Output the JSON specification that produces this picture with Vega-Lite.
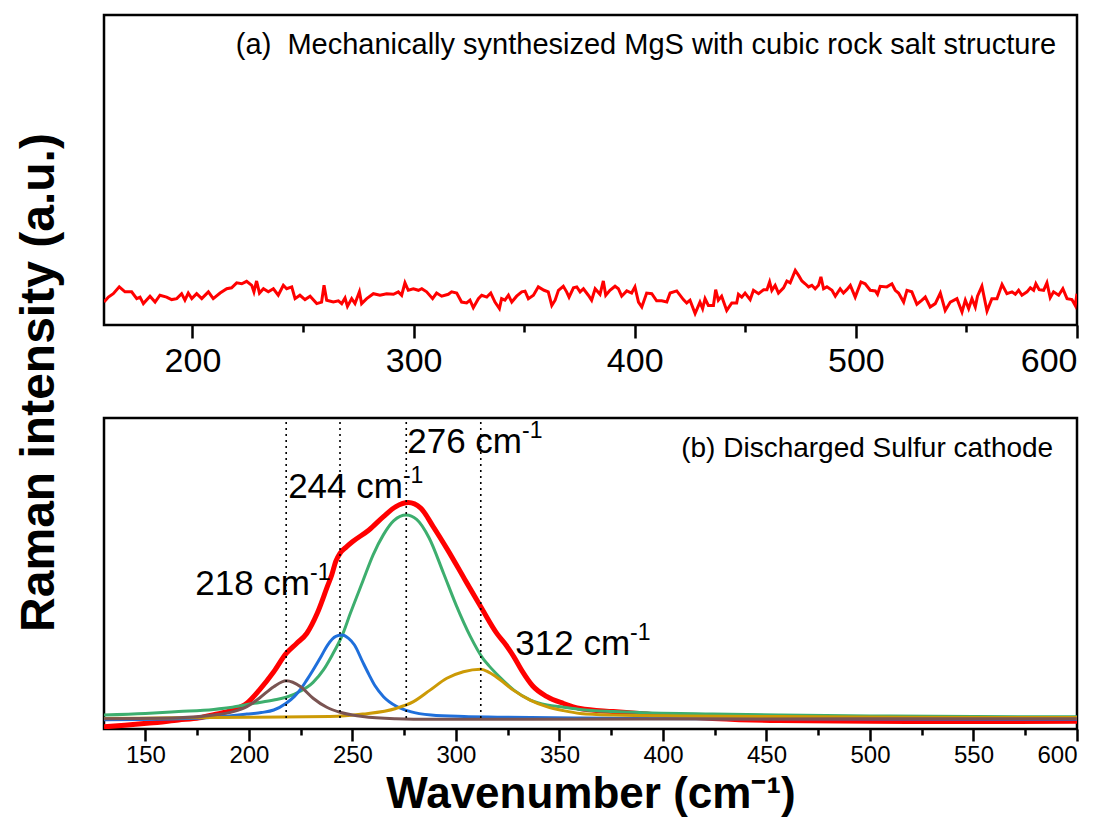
{
  "$schema": "https://vega.github.io/schema/vega-lite/v6.json",
  "background": "white",
  "padding": {"left": 15, "top": 13, "right": 5, "bottom": 5},
  "spacing": 35,
  "title": {"text": "Raman intensity (a.u.)", "orient": "left", "anchor": "middle", "font": "Liberation Sans", "fontSize": 48, "fontWeight": "bold", "color": "black", "offset": 39, "dx": 33},
  "config": {
    "view": {"stroke": "black", "strokeWidth": 2.5},
    "font": "Liberation Sans",
    "axis": {"grid": false, "labelColor": "black", "tickColor": "black", "titleColor": "black"}
  },
  "datasets": {
    "mgs": [
      {"w":160,"v":7.4},{"w":162.0,"v":9.0},{"w":164.2,"v":10.1},{"w":166.9,"v":12.3},{"w":169.5,"v":10.7},{"w":172.5,"v":10.7},{"w":174.8,"v":8.5},{"w":176.3,"v":9.0},{"w":177.8,"v":6.9},{"w":180.8,"v":9.3},{"w":183.1,"v":7.4},{"w":185.3,"v":9.6},{"w":188.3,"v":9.0},{"w":190.6,"v":8.2},{"w":192.9,"v":8.5},{"w":195.1,"v":10.1},{"w":196.6,"v":8.0},{"w":198.1,"v":10.3},{"w":199.7,"v":8.5},{"w":201.9,"v":10.1},{"w":204.2,"v":8.5},{"w":207.2,"v":10.7},{"w":209.4,"v":8.5},{"w":212.5,"v":10.3},{"w":215.5,"v":11.7},{"w":217.7,"v":12.0},{"w":220.0,"v":13.6},{"w":222.3,"v":13.3},{"w":224.5,"v":14.1},{"w":226.8,"v":12.8},{"w":227.8,"v":10.7},{"w":229.0,"v":14.2},{"w":230.3,"v":10.3},{"w":232.1,"v":11.7},{"w":234.3,"v":10.7},{"w":236.6,"v":11.7},{"w":238.8,"v":9.6},{"w":241.1,"v":12.8},{"w":242.6,"v":11.7},{"w":244.9,"v":12.3},{"w":246.4,"v":8.5},{"w":248.6,"v":9.6},{"w":250.9,"v":8.2},{"w":253.2,"v":9.3},{"w":256.2,"v":6.9},{"w":258.4,"v":7.4},{"w":259.5,"v":12.8},{"w":260.7,"v":8.0},{"w":263.7,"v":7.4},{"w":266.0,"v":7.8},{"w":267.5,"v":6.9},{"w":269.0,"v":8.7},{"w":270.1,"v":6.0},{"w":272.0,"v":8.5},{"w":273.5,"v":6.9},{"w":275.5,"v":10.7},{"w":276.5,"v":6.9},{"w":278.8,"v":8.5},{"w":281.8,"v":10.1},{"w":284.8,"v":9.6},{"w":287.8,"v":10.1},{"w":290.9,"v":9.9},{"w":293.1,"v":10.7},{"w":294.6,"v":9.6},{"w":296.1,"v":13.6},{"w":297.6,"v":11.2},{"w":299.9,"v":11.7},{"w":302.2,"v":11.2},{"w":303.7,"v":11.7},{"w":305.9,"v":10.7},{"w":308.6,"v":8.5},{"w":310.4,"v":10.3},{"w":312.7,"v":9.3},{"w":315.7,"v":9.9},{"w":317.2,"v":10.7},{"w":319.5,"v":10.3},{"w":321.7,"v":7.4},{"w":324.0,"v":7.1},{"w":325.5,"v":8.0},{"w":327.0,"v":5.6},{"w":329.3,"v":8.5},{"w":330.8,"v":9.6},{"w":333.1,"v":9.0},{"w":334.9,"v":10.3},{"w":336.8,"v":7.4},{"w":338.8,"v":5.3},{"w":339.8,"v":8.5},{"w":341.3,"v":8.0},{"w":342.9,"v":9.6},{"w":344.4,"v":7.4},{"w":346.6,"v":9.3},{"w":348.9,"v":10.7},{"w":350.4,"v":10.9},{"w":351.9,"v":8.5},{"w":354.2,"v":9.6},{"w":356.4,"v":12.3},{"w":359.0,"v":11.2},{"w":360.9,"v":10.7},{"w":362.5,"v":6.3},{"w":364.0,"v":8.0},{"w":365.5,"v":11.2},{"w":367.7,"v":12.5},{"w":369.2,"v":10.7},{"w":370.3,"v":9.0},{"w":372.3,"v":12.0},{"w":373.8,"v":12.3},{"w":375.3,"v":10.7},{"w":376.8,"v":11.7},{"w":379.0,"v":9.6},{"w":380.5,"v":8.0},{"w":382.1,"v":11.7},{"w":384.3,"v":9.9},{"w":385.8,"v":14.2},{"w":386.9,"v":9.6},{"w":388.8,"v":11.2},{"w":391.1,"v":12.5},{"w":392.6,"v":11.7},{"w":394.1,"v":9.3},{"w":396.4,"v":11.0},{"w":398.6,"v":10.3},{"w":400.1,"v":12.3},{"w":401.7,"v":7.4},{"w":403.2,"v":5.8},{"w":405.4,"v":10.3},{"w":407.7,"v":10.1},{"w":409.9,"v":7.8},{"w":412.2,"v":7.8},{"w":414.5,"v":7.4},{"w":416.0,"v":10.3},{"w":419.0,"v":11.0},{"w":422.0,"v":8.2},{"w":423.5,"v":7.1},{"w":425.0,"v":8.0},{"w":427.3,"v":3.7},{"w":429.5,"v":7.4},{"w":430.7,"v":5.3},{"w":431.8,"v":8.5},{"w":433.3,"v":6.3},{"w":435.6,"v":6.3},{"w":436.6,"v":11.4},{"w":437.8,"v":8.0},{"w":439.3,"v":9.3},{"w":441.6,"v":4.7},{"w":443.9,"v":7.1},{"w":446.1,"v":7.1},{"w":446.9,"v":9.9},{"w":448.4,"v":9.0},{"w":449.9,"v":10.3},{"w":452.2,"v":8.2},{"w":453.7,"v":11.2},{"w":456.0,"v":10.1},{"w":458.3,"v":11.4},{"w":459.8,"v":11.4},{"w":461.0,"v":13.9},{"w":462.0,"v":11.2},{"w":463.5,"v":12.8},{"w":465.0,"v":10.3},{"w":467.3,"v":12.0},{"w":468.8,"v":14.2},{"w":470.3,"v":13.6},{"w":472.6,"v":17.6},{"w":474.1,"v":16.0},{"w":475.6,"v":14.2},{"w":477.1,"v":13.3},{"w":478.6,"v":12.3},{"w":480.1,"v":12.8},{"w":481.6,"v":11.7},{"w":483.1,"v":12.8},{"w":484.2,"v":15.5},{"w":485.4,"v":11.7},{"w":486.9,"v":12.3},{"w":489.2,"v":11.2},{"w":490.7,"v":9.3},{"w":492.9,"v":11.7},{"w":494.4,"v":10.3},{"w":495.9,"v":11.4},{"w":497.5,"v":12.8},{"w":499.7,"v":9.0},{"w":502.3,"v":13.9},{"w":504.2,"v":13.3},{"w":506.5,"v":11.2},{"w":508.8,"v":11.0},{"w":509.8,"v":9.9},{"w":511.0,"v":12.5},{"w":514.0,"v":12.3},{"w":516.3,"v":13.3},{"w":517.8,"v":11.2},{"w":519.3,"v":10.3},{"w":521.6,"v":7.4},{"w":523.1,"v":11.2},{"w":525.3,"v":10.7},{"w":527.6,"v":6.7},{"w":529.9,"v":8.0},{"w":531.4,"v":9.0},{"w":533.6,"v":5.8},{"w":535.9,"v":6.9},{"w":538.2,"v":10.3},{"w":540.4,"v":4.7},{"w":542.7,"v":7.4},{"w":545.7,"v":8.5},{"w":548.0,"v":4.2},{"w":549.5,"v":8.0},{"w":551.0,"v":5.3},{"w":552.5,"v":8.5},{"w":554.0,"v":5.8},{"w":555.0,"v":9.3},{"w":557.0,"v":12.5},{"w":559.3,"v":4.5},{"w":561.5,"v":8.5},{"w":563.8,"v":8.5},{"w":566.1,"v":13.1},{"w":568.3,"v":10.1},{"w":570.6,"v":10.7},{"w":572.1,"v":9.9},{"w":573.6,"v":11.2},{"w":575.1,"v":9.6},{"w":577.4,"v":10.7},{"w":578.9,"v":12.0},{"w":580.4,"v":11.2},{"w":581.4,"v":13.3},{"w":582.9,"v":11.4},{"w":584.9,"v":11.2},{"w":586.4,"v":13.6},{"w":587.9,"v":8.8},{"w":589.4,"v":10.7},{"w":591.7,"v":9.6},{"w":593.6,"v":11.7},{"w":595.5,"v":8.5},{"w":597.7,"v":8.2},{"w":599.2,"v":6.3},{"w":600,"v":10.1}
    ],
    "fit": [
      {"s":"fit","w":130,"v":0.7},{"s":"fit","w":140,"v":1.2},{"s":"fit","w":152,"v":1.9},{"s":"fit","w":166,"v":2.9},{"s":"fit","w":176,"v":3.6},{"s":"fit","w":183,"v":4.6},{"s":"fit","w":192,"v":6.1},{"s":"fit","w":199,"v":8.3},{"s":"fit","w":205,"v":12.5},{"s":"fit","w":212,"v":18.4},{"s":"fit","w":218,"v":24.3},{"s":"fit","w":223,"v":27.5},{"s":"fit","w":228,"v":30.8},{"s":"fit","w":233,"v":37.2},{"s":"fit","w":238,"v":46},{"s":"fit","w":240,"v":49.5},{"s":"fit","w":242,"v":54},{"s":"fit","w":244,"v":56.5},{"s":"fit","w":247,"v":58.5},{"s":"fit","w":250,"v":60.2},{"s":"fit","w":258,"v":64},{"s":"fit","w":265,"v":68.3},{"s":"fit","w":271,"v":71.5},{"s":"fit","w":277,"v":72.8},{"s":"fit","w":283,"v":71},{"s":"fit","w":289,"v":65.1},{"s":"fit","w":296,"v":57.6},{"s":"fit","w":304,"v":48.4},{"s":"fit","w":312,"v":39.3},{"s":"fit","w":320,"v":30.5},{"s":"fit","w":324,"v":27.2},{"s":"fit","w":328,"v":23.2},{"s":"fit","w":332,"v":18.6},{"s":"fit","w":337,"v":13.9},{"s":"fit","w":344,"v":10.4},{"s":"fit","w":352,"v":8.2},{"s":"fit","w":360,"v":6.6},{"s":"fit","w":376,"v":5.6},{"s":"fit","w":392,"v":4.8},{"s":"fit","w":408,"v":4.0},{"s":"fit","w":424,"v":3.4},{"s":"fit","w":456,"v":2.7},{"s":"fit","w":500,"v":2.5},{"s":"fit","w":550,"v":2.4},{"s":"fit","w":600,"v":2.5},
      {"s":"c276","w":130,"v":4.5},{"s":"c276","w":150,"v":5.0},{"s":"c276","w":166,"v":5.6},{"s":"c276","w":183,"v":6.3},{"s":"c276","w":192,"v":7.0},{"s":"c276","w":202,"v":8.2},{"s":"c276","w":212,"v":9.3},{"s":"c276","w":218,"v":10.2},{"s":"c276","w":225,"v":12.2},{"s":"c276","w":231,"v":15.0},{"s":"c276","w":236,"v":19.0},{"s":"c276","w":240,"v":23.5},{"s":"c276","w":245,"v":30.0},{"s":"c276","w":249,"v":37.2},{"s":"c276","w":255,"v":47.5},{"s":"c276","w":260,"v":56.0},{"s":"c276","w":265,"v":62.5},{"s":"c276","w":270,"v":67.0},{"s":"c276","w":276,"v":68.8},{"s":"c276","w":281,"v":67.4},{"s":"c276","w":287,"v":61.5},{"s":"c276","w":294,"v":50.1},{"s":"c276","w":300,"v":40.0},{"s":"c276","w":307,"v":29.7},{"s":"c276","w":313,"v":22.7},{"s":"c276","w":316,"v":20.3},{"s":"c276","w":321,"v":16.8},{"s":"c276","w":328,"v":12.5},{"s":"c276","w":336,"v":9.3},{"s":"c276","w":344,"v":7.7},{"s":"c276","w":352,"v":7.0},{"s":"c276","w":360,"v":6.3},{"s":"c276","w":376,"v":5.6},{"s":"c276","w":392,"v":5.2},{"s":"c276","w":424,"v":4.8},{"s":"c276","w":456,"v":4.5},{"s":"c276","w":500,"v":4.2},{"s":"c276","w":550,"v":4.0},{"s":"c276","w":600,"v":3.9},
      {"s":"c244","w":130,"v":3.0},{"s":"c244","w":166,"v":3.3},{"s":"c244","w":183,"v":3.8},{"s":"c244","w":199,"v":4.8},{"s":"c244","w":206,"v":5.3},{"s":"c244","w":212,"v":6.1},{"s":"c244","w":218,"v":8.3},{"s":"c244","w":222,"v":10.5},{"s":"c244","w":225,"v":12.8},{"s":"c244","w":228,"v":15.8},{"s":"c244","w":231,"v":19.0},{"s":"c244","w":235,"v":23.5},{"s":"c244","w":238,"v":27.0},{"s":"c244","w":242,"v":29.8},{"s":"c244","w":245,"v":30.2},{"s":"c244","w":248,"v":29.2},{"s":"c244","w":251,"v":27.0},{"s":"c244","w":255,"v":21.5},{"s":"c244","w":258,"v":17.5},{"s":"c244","w":261,"v":13.8},{"s":"c244","w":265,"v":10.4},{"s":"c244","w":271,"v":7.4},{"s":"c244","w":278,"v":5.6},{"s":"c244","w":288,"v":4.5},{"s":"c244","w":304,"v":4.0},{"s":"c244","w":320,"v":3.8},{"s":"c244","w":360,"v":3.5},{"s":"c244","w":420,"v":3.3},{"s":"c244","w":500,"v":3.2},{"s":"c244","w":600,"v":3.1},
      {"s":"c312","w":130,"v":3.4},{"s":"c312","w":166,"v":3.6},{"s":"c312","w":200,"v":3.8},{"s":"c312","w":239,"v":4.0},{"s":"c312","w":255,"v":4.8},{"s":"c312","w":271,"v":6.6},{"s":"c312","w":279.5,"v":8.8},{"s":"c312","w":287.5,"v":12.5},{"s":"c312","w":295.6,"v":16.3},{"s":"c312","w":303.6,"v":18.4},{"s":"c312","w":312,"v":19.2},{"s":"c312","w":316,"v":18.2},{"s":"c312","w":321,"v":16.0},{"s":"c312","w":327.7,"v":12.5},{"s":"c312","w":335.8,"v":9.3},{"s":"c312","w":343.8,"v":7.2},{"s":"c312","w":351.9,"v":5.9},{"s":"c312","w":360,"v":5.0},{"s":"c312","w":376,"v":4.5},{"s":"c312","w":408,"v":4.2},{"s":"c312","w":456,"v":4.0},{"s":"c312","w":520,"v":3.8},{"s":"c312","w":600,"v":3.7},
      {"s":"c218","w":130,"v":3.3},{"s":"c218","w":166,"v":3.6},{"s":"c218","w":183,"v":4.5},{"s":"c218","w":192.5,"v":5.6},{"s":"c218","w":199,"v":7.2},{"s":"c218","w":205,"v":9.9},{"s":"c218","w":212,"v":13.6},{"s":"c218","w":218,"v":15.5},{"s":"c218","w":225,"v":13.6},{"s":"c218","w":231,"v":9.9},{"s":"c218","w":237.6,"v":7.0},{"s":"c218","w":244,"v":5.4},{"s":"c218","w":250,"v":4.5},{"s":"c218","w":255,"v":4.0},{"s":"c218","w":271,"v":3.3},{"s":"c218","w":288,"v":3.1},{"s":"c218","w":320,"v":3.1},{"s":"c218","w":400,"v":3.2},{"s":"c218","w":500,"v":3.3},{"s":"c218","w":600,"v":3.3}
    ],
    "peaks": [{"p":218},{"p":244},{"p":276},{"p":312}]
  },
  "vconcat": [
    {
      "width": 973,
      "height": 310,
      "resolve": {"axis": {"x": "independent"}},
      "layer": [
        {
          "data": {"name": "mgs"},
          "mark": {"type": "line", "color": "#FF0000", "strokeWidth": 3, "clip": true},
          "encoding": {
            "x": {"field": "w", "type": "quantitative", "scale": {"domain": [160, 600], "nice": false, "zero": false},
              "axis": {"orient": "bottom", "values": [200, 300, 400, 500, 600], "title": null, "domain": false, "tickSize": 13, "tickWidth": 2.5, "labelFontSize": 34, "labelPadding": 6, "labelFont": "Liberation Sans"}},
            "y": {"field": "v", "type": "quantitative", "scale": {"domain": [0, 100], "nice": false, "zero": false}, "axis": null}
          }
        },
        {
          "data": {"values": [{}]},
          "mark": {"type": "text", "align": "right", "baseline": "alphabetic", "fontSize": 29, "font": "Liberation Sans", "color": "black"},
          "encoding": {
            "x": {"datum": 590.6, "type": "quantitative", "axis": {"orient": "bottom", "values": [250, 350, 450, 550], "labels": false, "title": null, "domain": false, "tickSize": 7, "tickWidth": 2.5}},
            "y": {"datum": 87.4, "type": "quantitative"},
            "text": {"value": "(a)\u00a0\u00a0Mechanically synthesized MgS with cubic rock salt structure"}
          }
        }
      ]
    },
    {
      "width": 973,
      "height": 311,
      "resolve": {"axis": {"x": "independent"}},
      "layer": [
        {
          "data": {"name": "fit"},
          "transform": [{"filter": "datum.s === 'fit'"}],
          "mark": {"type": "line", "color": "#FF0000", "strokeWidth": 5, "interpolate": "monotone", "clip": true},
          "encoding": {
            "x": {"field": "w", "type": "quantitative", "scale": {"domain": [130, 600], "nice": false, "zero": false},
              "axis": {"orient": "bottom", "values": [150, 200, 250, 300, 350, 400, 450, 500, 550, 600], "title": "Wavenumber (cm\u207b\u00b9)", "domain": false, "tickSize": 12, "tickWidth": 2.5, "labelFontSize": 24, "labelPadding": 2, "labelFont": "Liberation Sans", "titleFont": "Liberation Sans", "titleFontSize": 44, "titleFontWeight": "bold", "titlePadding": 5}},
            "y": {"field": "v", "type": "quantitative", "scale": {"domain": [0, 100], "nice": false, "zero": false}, "axis": null}
          }
        },
        {
          "data": {"name": "fit"},
          "transform": [{"filter": "datum.s === 'c276'"}],
          "mark": {"type": "line", "color": "#3DAE6E", "strokeWidth": 3, "interpolate": "monotone", "clip": true},
          "encoding": {"x": {"field": "w", "type": "quantitative", "axis": null}, "y": {"field": "v", "type": "quantitative"}}
        },
        {
          "data": {"name": "fit"},
          "transform": [{"filter": "datum.s === 'c244'"}],
          "mark": {"type": "line", "color": "#1F6FDB", "strokeWidth": 3, "interpolate": "monotone", "clip": true},
          "encoding": {"x": {"field": "w", "type": "quantitative", "axis": null}, "y": {"field": "v", "type": "quantitative"}}
        },
        {
          "data": {"name": "fit"},
          "transform": [{"filter": "datum.s === 'c312'"}],
          "mark": {"type": "line", "color": "#CC9A06", "strokeWidth": 3, "interpolate": "monotone", "clip": true},
          "encoding": {"x": {"field": "w", "type": "quantitative", "axis": null}, "y": {"field": "v", "type": "quantitative"}}
        },
        {
          "data": {"name": "fit"},
          "transform": [{"filter": "datum.s === 'c218'"}],
          "mark": {"type": "line", "color": "#7A5452", "strokeWidth": 3, "interpolate": "monotone", "clip": true},
          "encoding": {"x": {"field": "w", "type": "quantitative", "axis": null}, "y": {"field": "v", "type": "quantitative"}}
        },
        {
          "data": {"name": "peaks"},
          "mark": {"type": "rule", "color": "black", "strokeWidth": 1.6, "strokeDash": [2, 4]},
          "encoding": {
            "x": {"field": "p", "type": "quantitative", "axis": {"orient": "bottom", "values": [175, 225, 275, 325, 375, 425, 475, 525, 575], "labels": false, "title": null, "domain": false, "tickSize": 6, "tickWidth": 2.5}},
            "y": {"datum": 3.5, "type": "quantitative"},
            "y2": {"datum": 100}
          }
        },
        {
          "data": {"values": [{}]},
          "mark": {"type": "text", "align": "right", "baseline": "alphabetic", "fontSize": 28, "font": "Liberation Sans", "color": "black"},
          "encoding": {"x": {"datum": 588.5, "type": "quantitative", "axis": null}, "y": {"datum": 87.5, "type": "quantitative"}, "text": {"value": "(b) Discharged Sulfur cathode"}}
        },
        {
          "data": {"values": [{}]},
          "mark": {"type": "text", "align": "right", "baseline": "alphabetic", "fontSize": 35, "font": "Liberation Sans", "color": "black"},
          "encoding": {"x": {"datum": 229.5, "type": "quantitative", "axis": null}, "y": {"datum": 43.1, "type": "quantitative"}, "text": {"value": "218 cm"}}
        },
        {
          "data": {"values": [{}]},
          "mark": {"type": "text", "align": "left", "baseline": "alphabetic", "fontSize": 23, "font": "Liberation Sans", "color": "black"},
          "encoding": {"x": {"datum": 229.5, "type": "quantitative", "axis": null}, "y": {"datum": 47.9, "type": "quantitative"}, "text": {"value": "-1"}}
        },
        {
          "data": {"values": [{}]},
          "mark": {"type": "text", "align": "right", "baseline": "alphabetic", "fontSize": 35, "font": "Liberation Sans", "color": "black"},
          "encoding": {"x": {"datum": 274.4, "type": "quantitative", "axis": null}, "y": {"datum": 74.3, "type": "quantitative"}, "text": {"value": "244 cm"}}
        },
        {
          "data": {"values": [{}]},
          "mark": {"type": "text", "align": "left", "baseline": "alphabetic", "fontSize": 23, "font": "Liberation Sans", "color": "black"},
          "encoding": {"x": {"datum": 274.4, "type": "quantitative", "axis": null}, "y": {"datum": 79.1, "type": "quantitative"}, "text": {"value": "-1"}}
        },
        {
          "data": {"values": [{}]},
          "mark": {"type": "text", "align": "right", "baseline": "alphabetic", "fontSize": 35, "font": "Liberation Sans", "color": "black"},
          "encoding": {"x": {"datum": 331.9, "type": "quantitative", "axis": null}, "y": {"datum": 88.7, "type": "quantitative"}, "text": {"value": "276 cm"}}
        },
        {
          "data": {"values": [{}]},
          "mark": {"type": "text", "align": "left", "baseline": "alphabetic", "fontSize": 23, "font": "Liberation Sans", "color": "black"},
          "encoding": {"x": {"datum": 331.9, "type": "quantitative", "axis": null}, "y": {"datum": 93.6, "type": "quantitative"}, "text": {"value": "-1"}}
        },
        {
          "data": {"values": [{}]},
          "mark": {"type": "text", "align": "right", "baseline": "alphabetic", "fontSize": 35, "font": "Liberation Sans", "color": "black"},
          "encoding": {"x": {"datum": 384.1, "type": "quantitative", "axis": null}, "y": {"datum": 23.8, "type": "quantitative"}, "text": {"value": "312 cm"}}
        },
        {
          "data": {"values": [{}]},
          "mark": {"type": "text", "align": "left", "baseline": "alphabetic", "fontSize": 23, "font": "Liberation Sans", "color": "black"},
          "encoding": {"x": {"datum": 384.1, "type": "quantitative", "axis": null}, "y": {"datum": 28.6, "type": "quantitative"}, "text": {"value": "-1"}}
        }
      ]
    }
  ]
}
